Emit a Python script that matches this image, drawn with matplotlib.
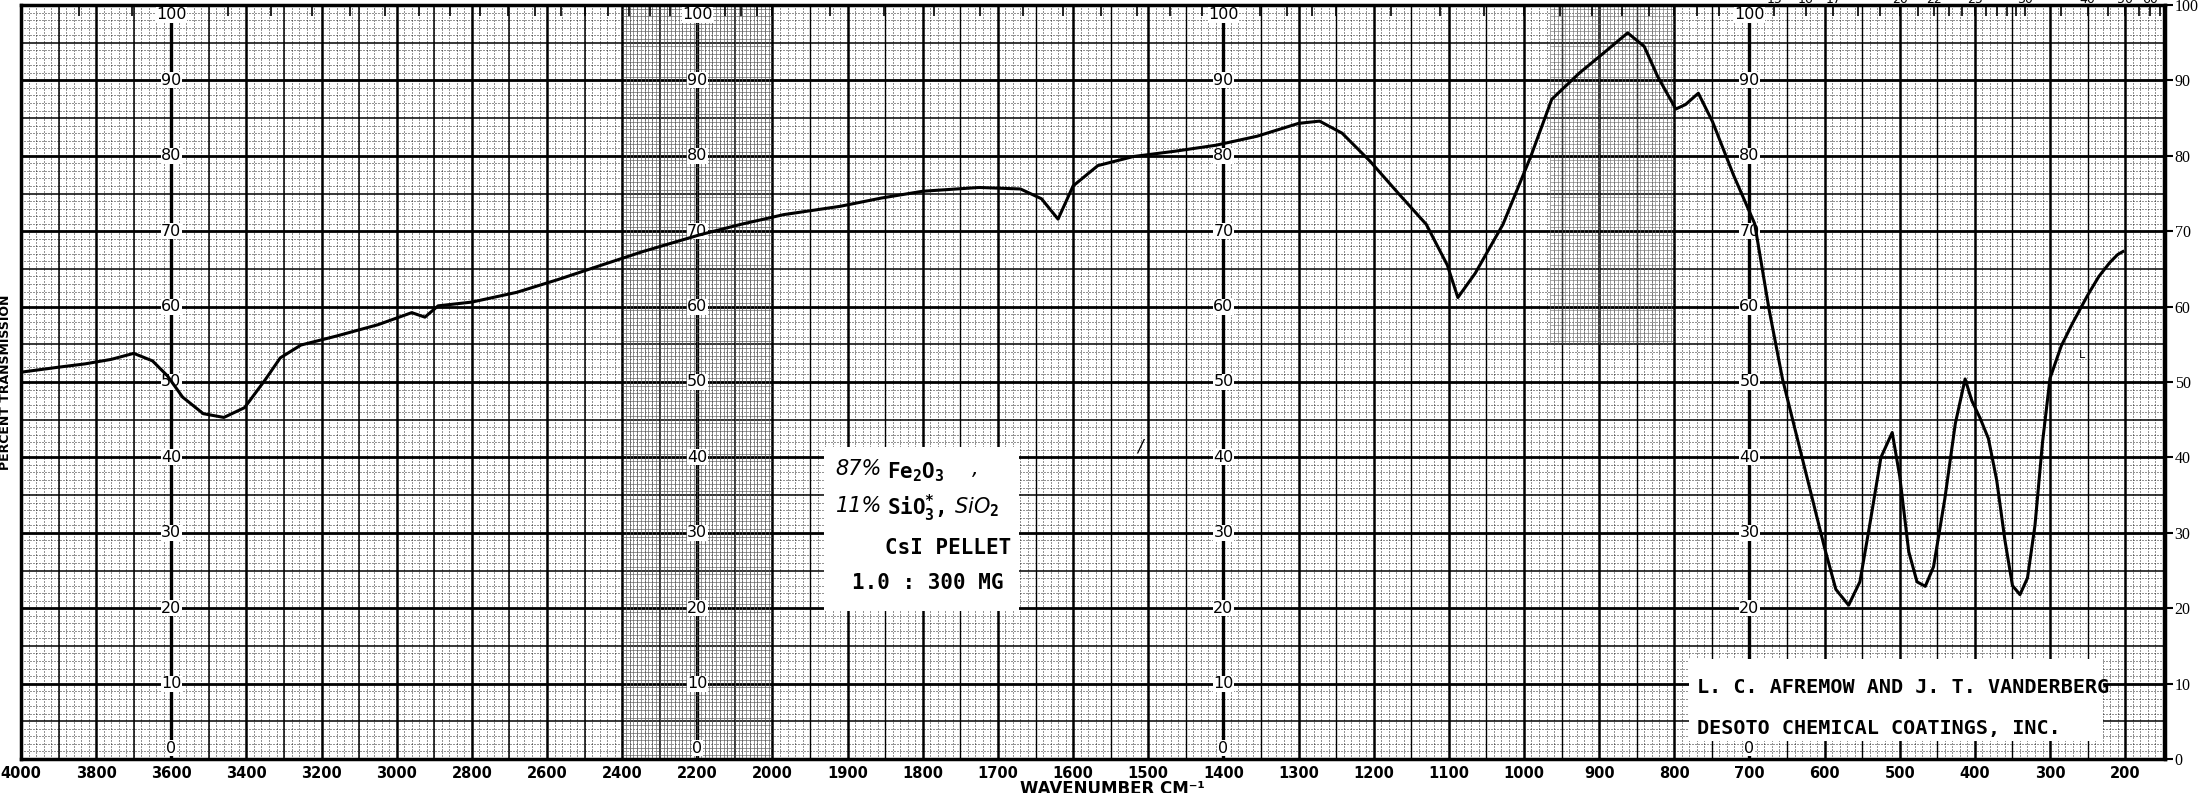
import numpy as np
import matplotlib
matplotlib.use("Agg")
import matplotlib.pyplot as plt
from matplotlib import font_manager

# spectrum (wavenumber cm-1, percent transmission)
wavenumber = [4000, 3910, 3830, 3760, 3700, 3650, 3610, 3570, 3515, 3460,
              3405, 3350, 3310, 3255, 3160, 3050, 2960, 2925, 2890, 2800,
              2680, 2570, 2455, 2345, 2195, 2085, 1985, 1910, 1855, 1800,
              1725, 1670, 1642, 1620, 1600, 1567, 1520, 1465, 1410, 1355,
              1300, 1272, 1242, 1205, 1167, 1130, 1102, 1088, 1065, 1028,
              991, 963, 926, 898, 862, 840, 822, 798, 785, 768,
              749, 721, 693, 674, 656, 628, 600, 585, 568, 553,
              540, 525, 510, 500, 488, 477, 466, 455, 440, 426,
              413, 404, 393, 382, 371, 360, 350, 340, 330, 320,
              310, 300, 285, 270, 250, 235, 220, 210, 203]
transmission = [51.3, 51.9, 52.4, 53.0, 53.8, 52.8, 50.8, 48.0, 45.8, 45.3,
                46.6, 50.3, 53.2, 54.9, 56.1, 57.6, 59.2, 58.6, 60.1, 60.6,
                61.9, 63.6, 65.5, 67.3, 69.5, 70.9, 72.2, 73.3, 74.4, 75.3,
                75.8, 75.6, 74.3, 71.6, 76.0, 78.7, 79.9, 80.6, 81.4, 82.6,
                84.3, 84.6, 83.0, 79.3, 75.0, 70.9, 65.5, 61.2, 64.4, 70.9,
                79.9, 87.5, 91.0, 93.3, 96.3, 94.5, 90.5, 86.2, 86.8, 88.3,
                84.5, 77.4, 71.0, 59.7, 50.4, 39.2, 28.0, 22.5, 20.4, 23.5,
                31.0, 40.0, 43.3, 37.5, 27.5, 23.5, 22.9, 25.5, 34.5, 44.5,
                50.4, 47.5, 45.2, 42.5, 37.0, 29.0, 23.0, 21.8, 24.0, 31.0,
                42.0, 50.5, 54.8, 57.8, 61.5, 64.0, 65.9, 66.9, 67.3]

tick_wn = [4000, 3800, 3600, 3400, 3200, 3000, 2800, 2600, 2400, 2200, 2000,
           1900, 1800, 1700, 1600, 1500, 1400, 1300, 1200, 1100, 1000,
           900, 800, 700, 600, 500, 400, 300, 200]
percent_ticks = list(range(0, 101, 10))
label_columns = [3600, 2200, 1400, 700]
micron_labels = [15, 16, 17, 20, 22, 25, 30, 40, 50, 60]

credit_lines = ["L. C. AFREMOW AND J. T. VANDERBERG",
                "DESOTO CHEMICAL COATINGS, INC."]

names = {f.name for f in font_manager.fontManager.ttflist}
narrow = "Liberation Sans Narrow" if "Liberation Sans Narrow" in names else "DejaVu Sans"
nsize = 12.5 if narrow != "DejaVu Sans" else 10.5
serif = "Liberation Serif" if "Liberation Serif" in names else "DejaVu Serif"

plt.rcParams["mathtext.fontset"] = "custom"
plt.rcParams["mathtext.rm"] = "DejaVu Sans Mono:bold"
plt.rcParams["mathtext.it"] = "DejaVu Sans:italic"
plt.rcParams["mathtext.bf"] = "DejaVu Sans Mono:bold"


# chart paper: 4000-2000 at half the scale of 2000-200
def fwd(w):
    w = np.asarray(w, dtype=float)
    return np.where(w >= 2000, w / 2 + 1000, w)


def inv(u):
    u = np.asarray(u, dtype=float)
    return np.where(u >= 2000, (u - 1000) * 2, u)


W, H = 2203, 793
fig = plt.figure(figsize=(W / 100, H / 100), dpi=100)
ax = fig.add_axes([21 / W, 34 / H, 2144 / W, 754 / H])
ax.set_xscale("function", functions=(fwd, inv))
ax.set_xlim(4000, 147)
ax.set_ylim(0, 100)

dot = (0, (1.2, 2.4))
# vertical grid
for w in range(3980, 1999, -20):
    ax.axvline(w, color="k", lw=0.6, ls=dot, zorder=1)
for w in range(1990, 140, -10):
    ax.axvline(w, color="k", lw=0.6, ls=dot, zorder=1)
for w in range(3900, 2000, -200):
    ax.axvline(w, color="k", lw=1.1, zorder=1)
for w in range(3800, 1999, -200):
    ax.axvline(w, color="k", lw=1.8, zorder=1)
for w in range(1950, 140, -100):
    ax.axvline(w, color="k", lw=1.0, zorder=1)
for w in range(1900, 140, -100):
    ax.axvline(w, color="k", lw=1.8, zorder=1)
for w in label_columns:
    ax.axvline(w, color="k", lw=2.4, zorder=1)
# horizontal grid
for p in range(1, 100):
    if p % 5:
        ax.axhline(p, color="k", lw=0.6, ls=dot, zorder=1)
for p in range(5, 100, 10):
    ax.axhline(p, color="k", lw=1.1, zorder=1)
for p in range(10, 100, 10):
    ax.axhline(p, color="k", lw=2.0, zorder=1)

# denser printed mesh on parts of the sheet
ax.vlines(np.arange(2390, 2000, -10), 0, 100, color="0.35", lw=0.45, zorder=1)
ax.hlines(np.arange(0.5, 100, 1), 2400, 2000, color="0.35", lw=0.45, zorder=1)
ax.vlines(np.arange(965, 800, -5), 55, 100, color="0.4", lw=0.4, zorder=1)
ax.hlines(np.arange(55.5, 100, 1), 965, 800, color="0.4", lw=0.4, zorder=1)

# micron scale ticks along the top edge
microns = np.concatenate([np.arange(2.6, 5.0, 0.1), np.arange(5.0, 8.0, 0.2),
                          np.arange(8.0, 15.0, 0.5), np.arange(15, 30, 1.0),
                          np.arange(30, 70, 5.0)])
mwn = 1e4 / microns
mwn = mwn[(mwn < 4000) & (mwn > 150)]
ax.vlines(mwn, 98.6, 100, color="k", lw=1.2, zorder=2)
for m in micron_labels:
    ax.text(1e4 / m, 100.75, str(m), ha="center", va="center", fontsize=9,
            family=narrow, clip_on=False)

# percent labels printed in columns on the sheet
for w in label_columns:
    for v in percent_ticks:
        if w == 700 and v == 10:
            continue  # hidden under the credits label
        y = min(max(v, 1.4), 98.7)
        ax.text(w, y, str(v), ha="center", va="center", fontsize=11.5,
                family=narrow, zorder=3,
                bbox=dict(facecolor="white", edgecolor="none", pad=0.3))

# spectrum trace
ax.plot(wavenumber, transmission, color="k", lw=2.2, zorder=4,
        solid_joinstyle="round")

# sample note: handwritten parts in italic, typed parts in bold mono
ax.fill_between([1932, 1672], 19.6, 41.4, color="white", lw=0, zorder=5)
hand = dict(ha="left", va="center", fontsize=15, style="italic", zorder=6)
typed = dict(ha="left", va="center", fontsize=15, zorder=6)
ax.text(1916, 38.4, "87%", **hand)
ax.text(1848, 38.0, r"$\mathrm{Fe_2O_3}$", **typed)
ax.text(1735, 38.4, ",", **hand)
ax.text(1916, 33.6, "11%", **hand)
ax.text(1848, 33.2, r"$\mathrm{SiO_3^{*}},$", **typed)
ax.text(1758, 33.4, r"$\mathit{SiO_2}$", **hand)
ax.text(1682, 28.0, "CsI PELLET", ha="right", va="center", fontsize=15,
        family="DejaVu Sans Mono", weight="bold", zorder=6)
ax.text(1692, 23.3, "1.0 : 300 MG", ha="right", va="center", fontsize=15,
        family="DejaVu Sans Mono", weight="bold", zorder=6)

# credits
ax.fill_between([780, 230], 2.4, 13.2, color="white", lw=0, zorder=5)
ax.text(770, 9.5, credit_lines[0], ha="left", va="center", fontsize=14.5,
        family="DejaVu Sans Mono", weight="bold", zorder=6)
ax.text(770, 4.1, credit_lines[1], ha="left", va="center", fontsize=14.5,
        family="DejaVu Sans Mono", weight="bold", zorder=6)

# small pen marks on the sheet
ax.text(1511, 41.4, "/", ha="center", va="center", fontsize=12, style="italic", zorder=6)
ax.text(257, 53.6, "L", ha="center", va="center", fontsize=8, zorder=6)

# axes
ax.set_xticks(tick_wn)
ax.set_xticklabels([str(t) for t in tick_wn], family=narrow, fontsize=nsize, weight="bold")
ax.set_yticks(percent_ticks)
ax.set_yticklabels([str(t) for t in percent_ticks], family=serif, fontsize=11.5)
ax.tick_params(axis="x", length=0, pad=5)
ax.tick_params(axis="y", left=False, labelleft=False, right=True, labelright=True,
               length=6, width=1.5, pad=1)
for s in ax.spines.values():
    s.set_linewidth(2.5)

fig.text(6 / W, 1 - 382 / H, "PERCENT TRANSMISSION", rotation=90, ha="center",
         va="center", fontsize=9, weight="bold")
fig.text(1112 / W, 1 - 780 / H, "WAVENUMBER CM\u207b\u00b9", ha="center", va="top",
         fontsize=12, weight="bold", family=narrow)

fig.savefig("out.png", dpi=100, facecolor="white")
